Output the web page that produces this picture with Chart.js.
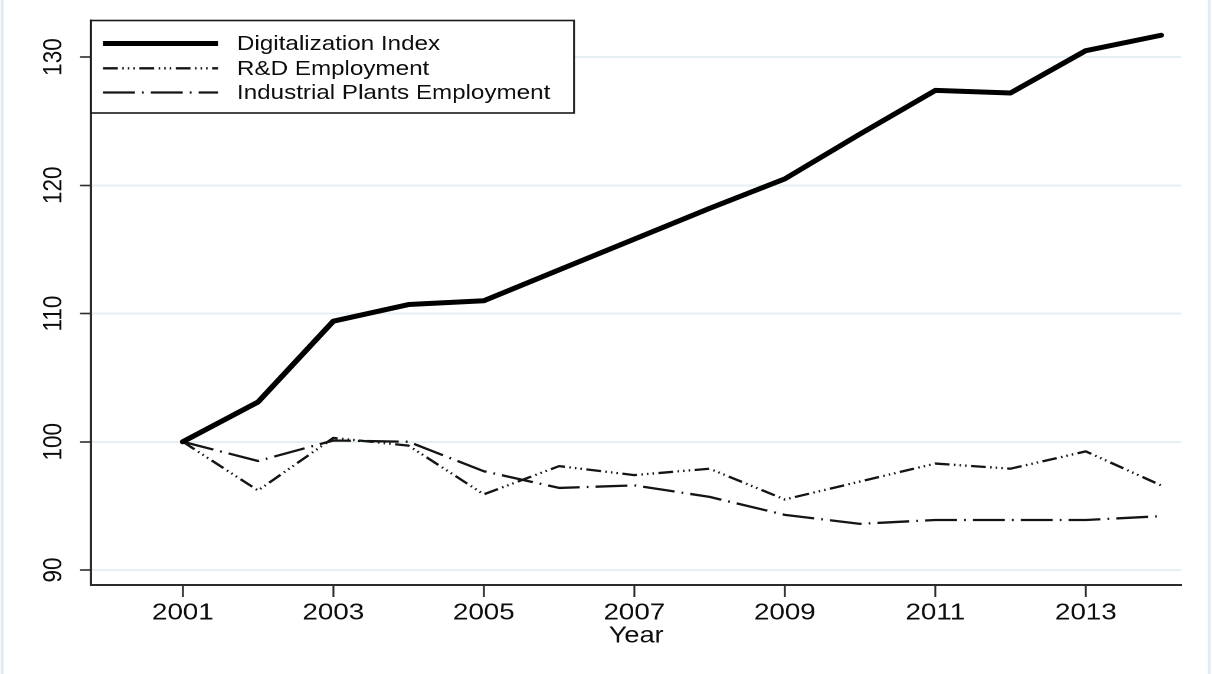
<!DOCTYPE html>
<html>
<head>
<meta charset="utf-8">
<title>Digitalization and employment, 2001–2014</title>
<script src="https://cdn.jsdelivr.net/npm/chart.js@4.4.1/dist/chart.umd.min.js"></script>
<style>
  html, body { margin: 0; padding: 0; background: #fff; overflow: hidden; }
  /* The graph is laid out on a narrower canvas and widened to the page width,
     which gives the type and strokes their broad, stretched look. */
  #wrap { width: 1027px; height: 674px; transform: scaleX(1.1802); transform-origin: 0 0; }
</style>
</head>
<body>
<div id="wrap"><canvas id="c" width="1027" height="674"></canvas></div>
<script>
// Index values, 2001 = 100
const years = [2001, 2002, 2003, 2004, 2005, 2006, 2007, 2008, 2009, 2010, 2011, 2012, 2013, 2014];
const digitalizationIndex = [100, 103.1, 109.4, 110.7, 111.0, 113.4, 115.8, 118.2, 120.5, 124.0, 127.4, 127.2, 130.5, 131.7];
const rdEmployment       = [100, 96.2, 100.3, 99.7, 95.9, 98.1, 97.4, 97.9, 95.5, 96.9, 98.3, 97.9, 99.25, 96.6];
const plantsEmployment   = [100, 98.5, 100.1, 100.0, 97.7, 96.4, 96.6, 95.7, 94.3, 93.6, 93.9, 93.9, 93.9, 94.2];

const seriesLabels = ['Digitalization Index', 'R&D Employment', 'Industrial Plants Employment'];
const yearTicks = [2001, 2003, 2005, 2007, 2009, 2011, 2013];
const valueTicks = [90, 100, 110, 120, 130];
const xTitle = 'Year';

const FONT = '"Liberation Sans", Arial, Helvetica, sans-serif';
const INK = '#0d0d0d';
const AXIS = '#2b2b2b';
const GRID = '#e6eff2';

const toPoints = vals => vals.map((v, i) => ({ x: years[i], y: v }));

// Boxed key drawn inside the top-left of the plot
const boxedKey = {
  id: 'boxedKey',
  afterDatasetsDraw(chart) {
    const ctx = chart.ctx;
    const left = chart.chartArea.left, top = 20.5, right = 486.4, bottom = 113;
    ctx.save();
    ctx.fillStyle = '#fff';
    ctx.fillRect(left, top, right - left, bottom - top);
    ctx.lineWidth = 1.6;
    ctx.strokeStyle = '#1a1a1a';
    ctx.strokeRect(left, top, right - left, bottom - top);
    const rows = [43.5, 68.3, 92.5];
    chart.data.datasets.forEach((ds, i) => {
      const y = rows[i];
      ctx.beginPath();
      ctx.setLineDash(ds.borderDash || []);
      ctx.lineWidth = ds.borderWidth;
      ctx.strokeStyle = ds.borderColor;
      ctx.lineCap = 'butt';
      ctx.moveTo(87.3, y);
      ctx.lineTo(184.7, y);
      ctx.stroke();
      ctx.setLineDash([]);
      ctx.fillStyle = INK;
      ctx.font = '20.5px ' + FONT;
      ctx.textBaseline = 'middle';
      ctx.textAlign = 'left';
      ctx.fillText(ds.label, 200.8, y + 1);
    });
    ctx.restore();
  }
};

// Faint outer edges of the graph region
const regionEdges = {
  id: 'regionEdges',
  beforeDraw(chart) {
    const ctx = chart.ctx;
    ctx.save();
    ctx.strokeStyle = '#e3ebf3';
    ctx.lineWidth = 2.5;
    ctx.beginPath();
    ctx.moveTo(1.8, 0); ctx.lineTo(1.8, chart.height);
    ctx.moveTo(1024.6, 0); ctx.lineTo(1024.6, chart.height);
    ctx.stroke();
    ctx.restore();
  }
};

new Chart(document.getElementById('c'), {
  type: 'line',
  data: {
    datasets: [
      {
        label: seriesLabels[0],
        data: toPoints(digitalizationIndex),
        borderColor: '#000',
        borderWidth: 5,
        borderCapStyle: 'round',
        borderJoinStyle: 'round'
      },
      {
        label: seriesLabels[1],
        data: toPoints(rdEmployment),
        borderColor: '#141414',
        borderWidth: 2.3,
        borderDash: [12.5, 3.8, 1.3, 3.4, 1.3, 3.4, 1.3, 3.8],
        borderJoinStyle: 'round'
      },
      {
        label: seriesLabels[2],
        data: toPoints(plantsEmployment),
        borderColor: '#141414',
        borderWidth: 2.3,
        borderDash: [27, 6, 1.5, 6],
        borderJoinStyle: 'round'
      }
    ]
  },
  options: {
    responsive: false,
    animation: false,
    devicePixelRatio: 2,
    events: [],
    layout: { padding: { left: 0, top: 20.5, right: 26, bottom: 0 } },
    elements: { point: { radius: 0 }, line: { tension: 0 } },
    plugins: { legend: { display: false }, tooltip: { enabled: false } },
    scales: {
      x: {
        type: 'linear',
        min: 1999.78,
        max: 2014.27,
        afterBuildTicks: s => { s.ticks = yearTicks.map(v => ({ value: v })); },
        afterFit: s => { s.height = 89; },
        grid: { drawOnChartArea: false, tickColor: AXIS, tickLength: 12, tickWidth: 1.6 },
        border: { color: AXIS, width: 2 },
        ticks: {
          color: INK,
          font: { family: FONT, size: 23.5 },
          padding: 2,
          maxRotation: 0,
          autoSkip: false,
          callback: v => String(v)
        },
        title: {
          display: true,
          text: xTitle,
          color: INK,
          font: { family: FONT, size: 23 },
          padding: { top: 0, bottom: 24 }
        }
      },
      y: {
        min: 88.83,
        max: 132.85,
        afterBuildTicks: s => { s.ticks = valueTicks.map(v => ({ value: v })); },
        afterFit: s => { s.width = 77.1; },
        grid: { color: GRID, lineWidth: 2, tickColor: AXIS, tickLength: 9.3, tickWidth: 1.6 },
        border: { color: AXIS, width: 2 },
        ticks: {
          color: INK,
          font: { family: FONT, size: 22.5 },
          minRotation: 90,
          maxRotation: 90,
          crossAlign: 'center',
          padding: 3,
          callback: v => String(v)
        }
      }
    }
  },
  plugins: [regionEdges, boxedKey]
});
</script>
</body>
</html>
